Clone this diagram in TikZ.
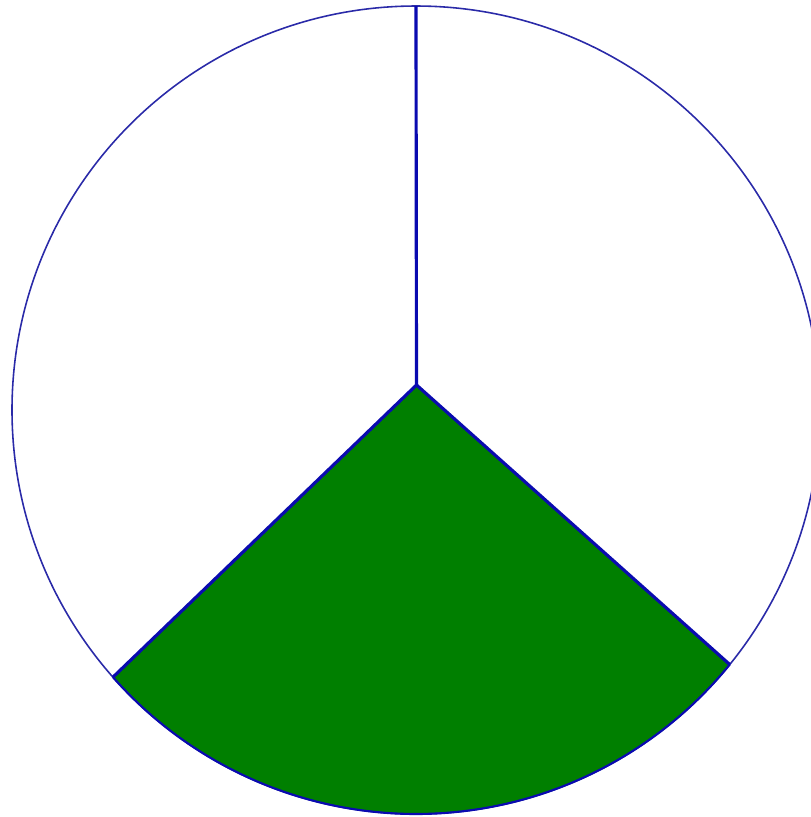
\documentclass[tikz,border=0pt]{standalone}
\usepackage{tikz}
\usetikzlibrary{calc}
\definecolor{rimblue}{HTML}{2A2AA8}
\definecolor{spokeblue}{HTML}{0A0AB0}
\definecolor{sectorgreen}{HTML}{007F00}

\begin{document}
\begin{tikzpicture}[x=0.01cm,y=-0.01cm,
    rim/.style={draw=rimblue,line width=0.45pt},
    spoke/.style={draw=spokeblue,line width=0.9pt}]
    \useasboundingbox (0,0) rectangle (811,817);
    \clip (0,0) rectangle (811,817);
    % circle centre and the point where the spokes meet
    \coordinate (centre) at (416,410);
    \coordinate (hub) at (416.5,385);
    \coordinate (top) at (416,6);
    \coordinate (leftend) at ($(centre)+(221.4:404 and -404)$);
    \coordinate (rightend) at ($(centre)+(320.95:404 and -404)$);
    % green sector
    \fill[sectorgreen] (hub) -- (leftend)
      arc[start angle=221.4,end angle=320.95,x radius=404,y radius=-404] -- cycle;
    \draw[rim] (centre) circle[radius=404];
    \draw[spoke] (top) -- (hub);
    \draw[spoke,line join=round] (leftend) -- (hub) -- (rightend);
    \draw[draw=spokeblue,line width=0.6pt] (leftend)
      arc[start angle=221.4,end angle=320.95,x radius=404,y radius=-404];
\end{tikzpicture}
\end{document}
